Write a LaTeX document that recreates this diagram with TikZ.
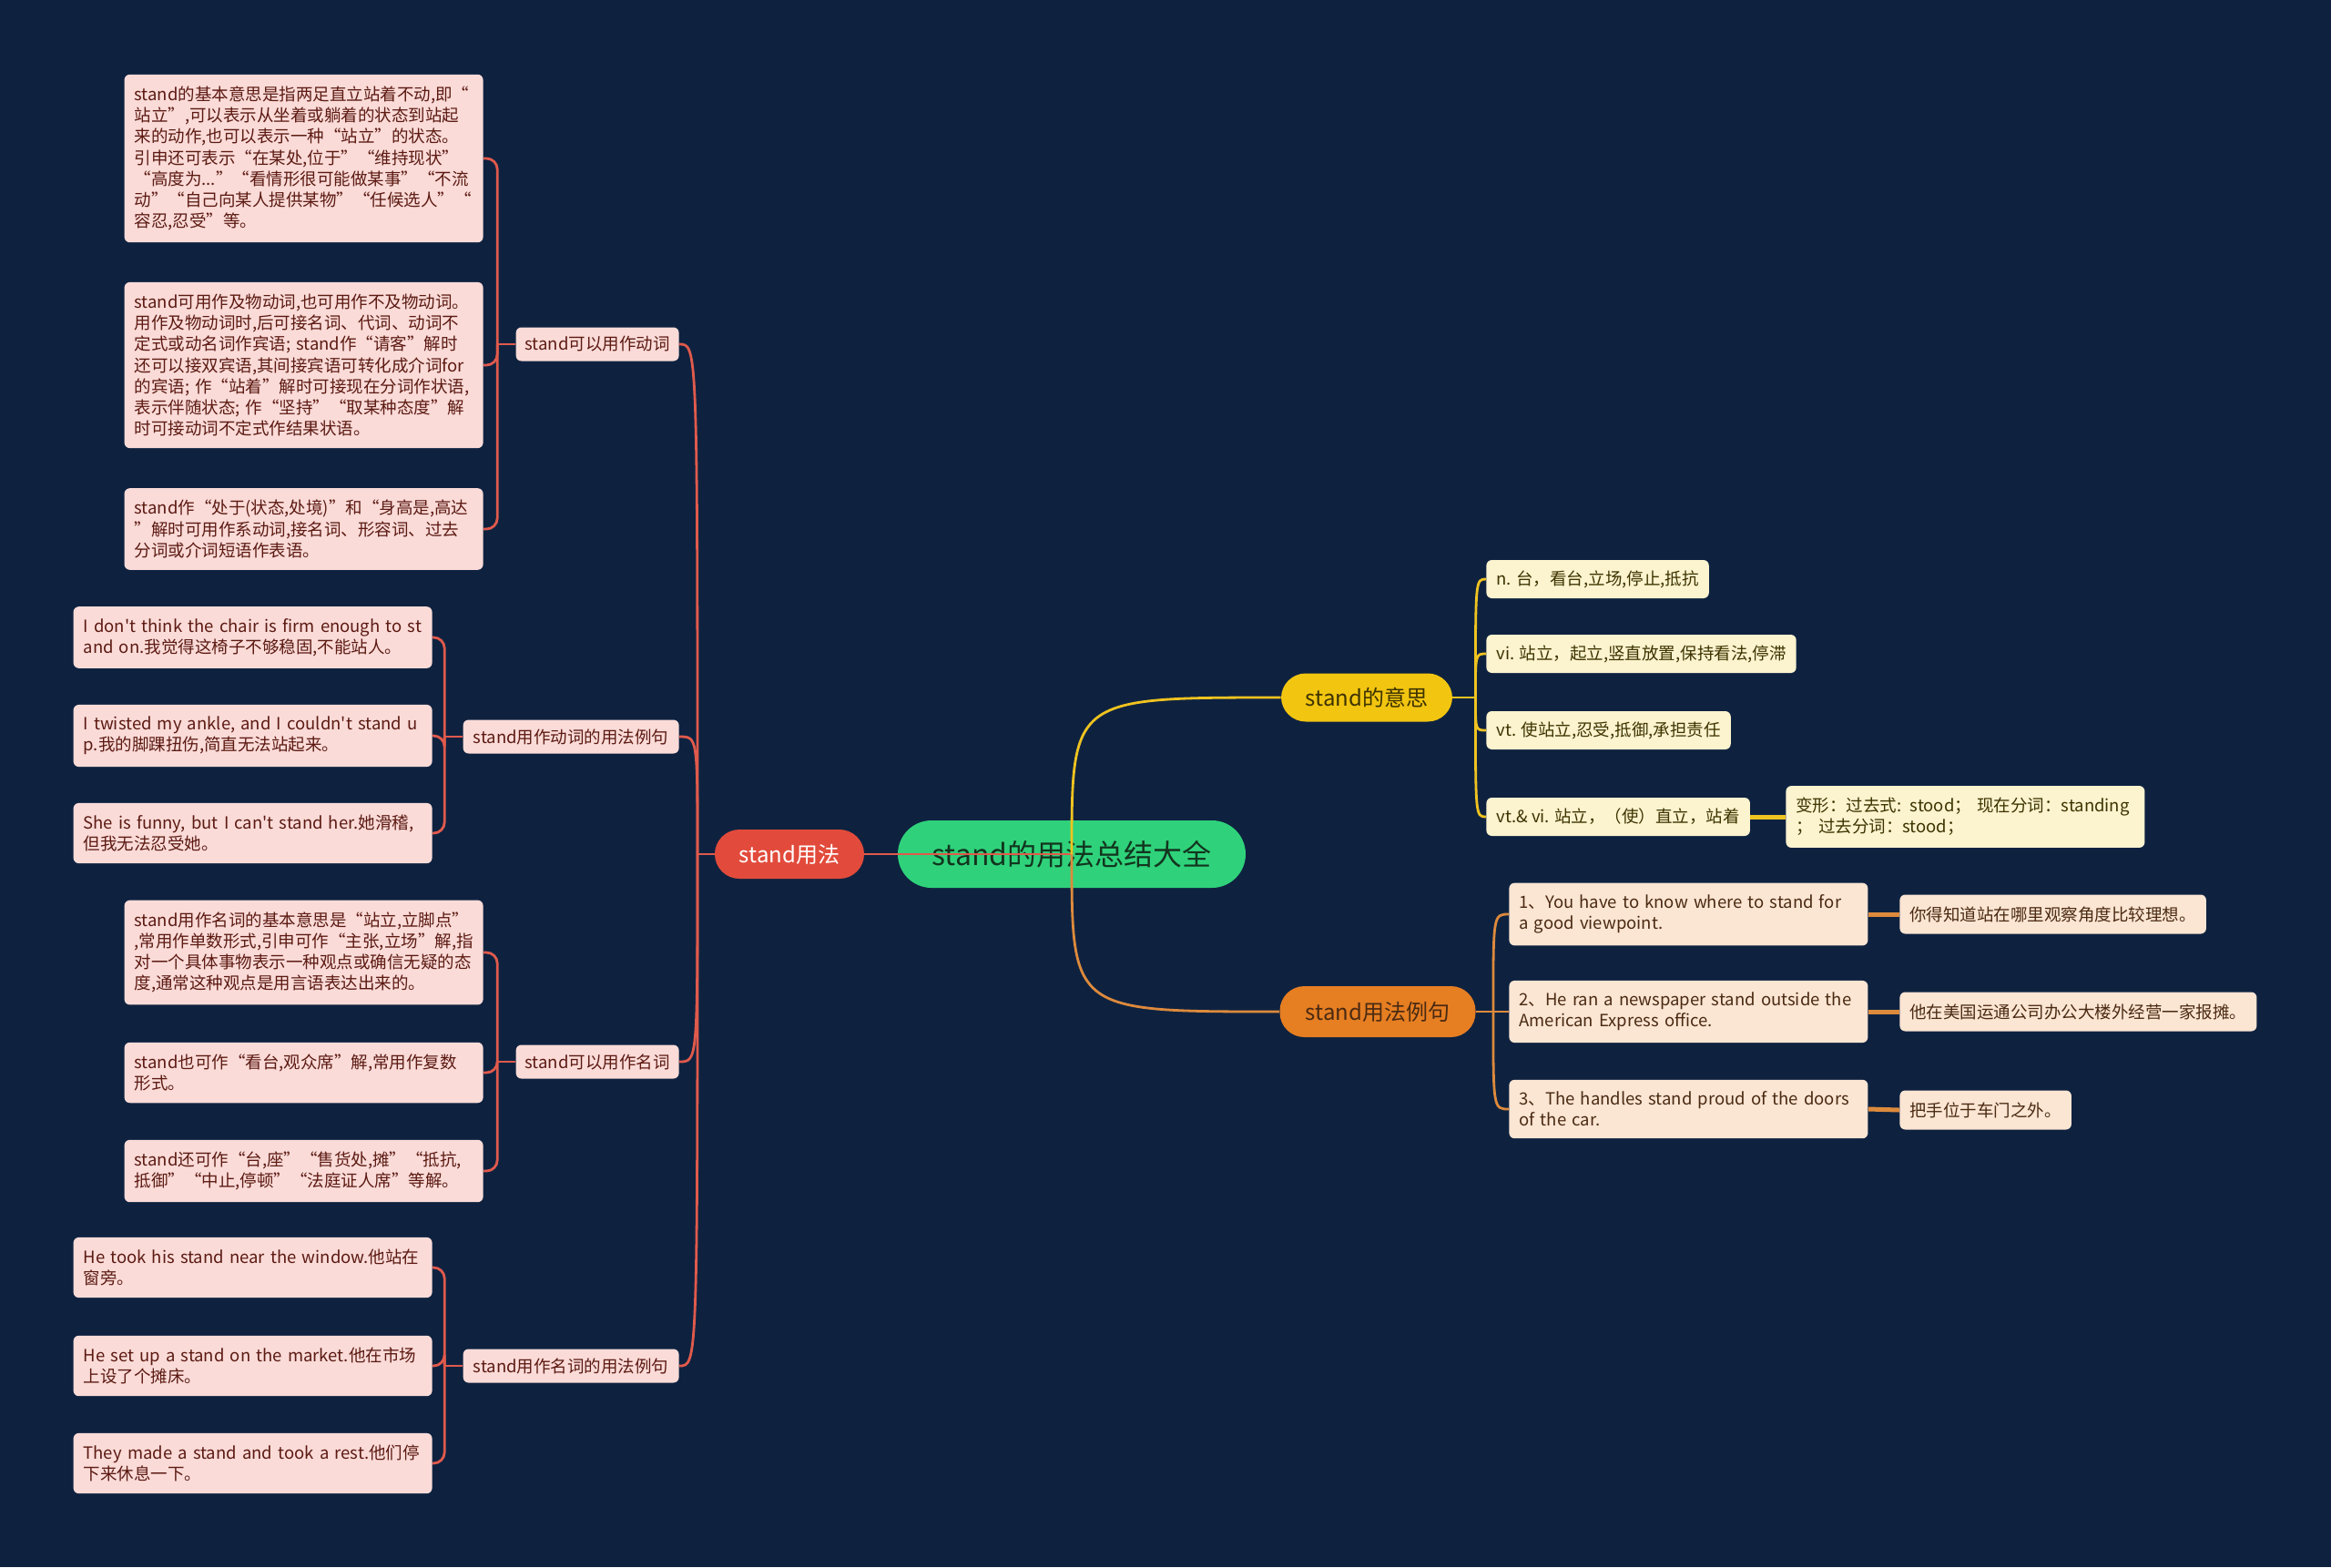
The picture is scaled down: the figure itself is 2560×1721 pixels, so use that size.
\documentclass[tikz,border=0pt]{standalone}
\usepackage{fontspec}
\setmainfont{Noto Sans CJK SC}[Ligatures=TeXOff]
\usetikzlibrary{positioning,calc}
\definecolor{bg}{HTML}{0E2240}
\definecolor{rootfill}{HTML}{2FD27A}
\definecolor{rootink}{HTML}{12351F}
\definecolor{redfill}{HTML}{E24B3B}
\definecolor{yelfill}{HTML}{F2C511}
\definecolor{orafill}{HTML}{E67E22}
\definecolor{pinkfill}{HTML}{FADBD8}
\definecolor{pinkink}{HTML}{5C1A12}
\definecolor{creamfill}{HTML}{FCF3CF}
\definecolor{creamink}{HTML}{3D3300}
\definecolor{peachfill}{HTML}{FBE5D3}
\definecolor{peachink}{HTML}{4A2A12}
\definecolor{redline}{HTML}{E05A4C}
\definecolor{yelline}{HTML}{EFC320}
\definecolor{oraline}{HTML}{DD8A3C}

\begin{document}
\begin{tikzpicture}[x=0.5pt,y=-0.5pt,
   small/.style={font=\fontsize{9.25}{11.6}\selectfont},
   leaf/.style={small,fill=pinkfill,text=pinkink,rounded corners=3pt,
     inner xsep=5.5pt,inner ysep=6.5pt,text width=186pt,align=left},
   sub/.style={small,fill=pinkfill,text=pinkink,rounded corners=3pt,
     minimum height=18.5pt,inner xsep=4pt},
   yleaf/.style={small,fill=creamfill,text=creamink,rounded corners=3pt,
     minimum height=21pt,inner xsep=5.5pt},
   oleaf/.style={small,fill=peachfill,text=peachink,rounded corners=3pt,
     inner xsep=5.5pt,inner ysep=6.5pt,text width=186pt,align=left},
   obleaf/.style={small,fill=peachfill,text=peachink,rounded corners=3pt,
     minimum height=21.5pt,inner xsep=5.5pt},
   topic/.style={font=\fontsize{12}{14}\selectfont,minimum height=27pt,
     rounded corners=13.5pt},
   rl/.style={draw=redline,line width=1.4pt},
   yl/.style={draw=yelline,line width=1.4pt},
   ol/.style={draw=oraline,line width=1.4pt}]

  \fill[bg] (0,0) rectangle (2560,1721);
  \useasboundingbox (0,0) rectangle (2560,1721);

  \node[fill=rootfill,text=rootink,font=\fontsize{16}{18}\selectfont,
    minimum width=191pt,minimum height=37pt,rounded corners=18.5pt]
    (root) at (1177,938) {stand的用法总结大全};
  \node[topic,fill=redfill,text=white,minimum width=82pt] (use) at (867,938) {stand用法};
  \node[topic,fill=yelfill,text=creamink,minimum width=94pt,minimum height=26.5pt]
    (mean) at (1501,766) {stand的意思};
  \node[topic,fill=orafill,text=peachink,minimum width=107.5pt,minimum height=28pt]
    (ex) at (1513,1111) {stand用法例句};

  \node[sub,anchor=east,minimum width=89.5pt] (verb) at (746,378) {stand可以用作动词};
  \node[sub,anchor=east,minimum width=118.5pt] (verbex) at (746,809) {stand用作动词的用法例句};
  \node[sub,anchor=east,minimum width=89.5pt] (noun) at (746,1166) {stand可以用作名词};
  \node[sub,anchor=east,minimum width=118.5pt] (nounex) at (746,1500) {stand用作名词的用法例句};

  \node[leaf,anchor=east] (v1) at (531,174) {stand的基本意思是指两足直立站着不动,即“\\
    站立”,可以表示从坐着或躺着的状态到站起\\
    来的动作,也可以表示一种“站立”的状态。\\
    引申还可表示“在某处,位于”“维持现状”\\
    “高度为...”“看情形很可能做某事”“不流\\
    动”“自己向某人提供某物”“任候选人”“\\
    容忍,忍受”等。};
  \node[leaf,anchor=east] (v2) at (531,401) {stand可用作及物动词,也可用作不及物动词。\\
    用作及物动词时,后可接名词、代词、动词不\\
    定式或动名词作宾语; stand作“请客”解时\\
    还可以接双宾语,其间接宾语可转化成介词for\\
    的宾语; 作“站着”解时可接现在分词作状语,\\
    表示伴随状态; 作“坚持”“取某种态度”解\\
    时可接动词不定式作结果状语。};
  \node[leaf,anchor=east] (v3) at (531,581) {stand作“处于(状态,处境)”和“身高是,高达\\
    ”解时可用作系动词,接名词、形容词、过去\\
    分词或介词短语作表语。};

  \node[leaf,anchor=east] (ve1) at (475,700) {I don't think the chair is firm enough to st\\
    and on.我觉得这椅子不够稳固,不能站人。};
  \node[leaf,anchor=east] (ve2) at (475,808) {I twisted my ankle, and I couldn't stand u\\
    p.我的脚踝扭伤,简直无法站起来。};
  \node[leaf,anchor=east] (ve3) at (475,915) {She is funny, but I can't stand her.她滑稽,\\
    但我无法忍受她。};

  \node[leaf,anchor=east] (n1) at (531,1046) {stand用作名词的基本意思是“站立,立脚点”\\
    ,常用作单数形式,引申可作“主张,立场”解,指\\
    对一个具体事物表示一种观点或确信无疑的态\\
    度,通常这种观点是用言语表达出来的。};
  \node[leaf,anchor=east] (n2) at (531,1178) {stand也可作“看台,观众席”解,常用作复数\\
    形式。};
  \node[leaf,anchor=east] (n3) at (531,1286) {stand还可作“台,座”“售货处,摊”“抵抗,\\
    抵御”“中止,停顿”“法庭证人席”等解。};

  \node[leaf,anchor=east] (ne1) at (475,1392) {He took his stand near the window.他站在\\
    窗旁。};
  \node[leaf,anchor=east] (ne2) at (475,1500) {He set up a stand on the market.他在市场\\
    上设了个摊床。};
  \node[leaf,anchor=east] (ne3) at (475,1607) {They made a stand and took a rest.他们停\\
    下来休息一下。};

  \node[yleaf,anchor=west] (y1) at (1632,636) {n. 台，看台,立场,停止,抵抗};
  \node[yleaf,anchor=west] (y2) at (1632,718) {vi. 站立，起立,竖直放置,保持看法,停滞};
  \node[yleaf,anchor=west] (y3) at (1632,802) {vt. 使站立,忍受,抵御,承担责任};
  \node[yleaf,anchor=west] (y4) at (1632,897) {vt.\& vi. 站立，（使）直立，站着};
  \node[yleaf,anchor=west,text width=186pt,align=left,inner ysep=6.5pt] (y5) at (1961,897)
    {变形：过去式: stood；\ 现在分词：standing\\；\ 过去分词：stood；};

  \node[oleaf,anchor=west] (o1) at (1657,1004) {1、You have to know where to stand for\\
    a good viewpoint.};
  \node[oleaf,anchor=west] (o2) at (1657,1111) {2、He ran a newspaper stand outside the\\
    American Express office.};
  \node[oleaf,anchor=west] (o3) at (1657,1218) {3、The handles stand proud of the doors\\
    of the car.};
  \node[obleaf,anchor=west] (o1b) at (2086,1004) {你得知道站在哪里观察角度比较理想。};
  \node[obleaf,anchor=west] (o2b) at (2086,1111) {他在美国运通公司办公大楼外经营一家报摊。};
  \node[obleaf,anchor=west] (o3b) at (2086,1219) {把手位于车门之外。};

  \coordinate (hubL) at (766,938);
  \draw[rl] (root.center) -- (use.east);
  \draw[rl] (use.west) -- (hubL);
  \foreach \n in {verb,verbex,noun,nounex}
    \draw[rl] (hubL) .. controls (hubL |- \n.east) .. (\n.east);

  \coordinate (hv) at ($(verb.west)+(-20,0)$);
  \coordinate (hve) at ($(verbex.west)+(-20,0)$);
  \coordinate (hn) at ($(noun.west)+(-20,0)$);
  \coordinate (hne) at ($(nounex.west)+(-20,0)$);
  \draw[rl] (verb.west) -- (hv);
  \draw[rl] (verbex.west) -- (hve);
  \draw[rl] (noun.west) -- (hn);
  \draw[rl] (nounex.west) -- (hne);
  \foreach \n in {v1,v2,v3}
    \draw[rl,rounded corners=6pt] (\n.east) -| (hv);
  \foreach \n in {ve1,ve2,ve3}
    \draw[rl,rounded corners=6pt] (\n.east) -| (hve);
  \foreach \n in {n1,n2,n3}
    \draw[rl,rounded corners=6pt] (\n.east) -| (hn);
  \foreach \n in {ne1,ne2,ne3}
    \draw[rl,rounded corners=6pt] (\n.east) -| (hne);

  \draw[yl] (root.center) .. controls (root.center |- mean.west) .. (mean.west);
  \draw[ol] (root.center) .. controls (root.center |- ex.west) .. (ex.west);

  \coordinate (hy) at ($(mean.east)+(25,0)$);
  \draw[yl] (mean.east) -- (hy);
  \foreach \n in {y1,y2,y3,y4}
    \draw[yl] (hy) .. controls (hy |- \n.west) .. (\n.west);
  \draw[yl,line width=2.5pt] (y4.east) -- (y5.west);

  \coordinate (ho) at ($(ex.east)+(19,0)$);
  \draw[ol] (ex.east) -- (ho);
  \foreach \n in {o1,o2,o3}
    \draw[ol] (ho) .. controls (ho |- \n.west) .. (\n.west);
  \draw[ol,line width=2.5pt] (o1.east) -- (o1b.west);
  \draw[ol,line width=2.5pt] (o2.east) -- (o2b.west);
  \draw[ol,line width=2.5pt] (o3.east) -- (o3b.west);
\end{tikzpicture}
\end{document}
